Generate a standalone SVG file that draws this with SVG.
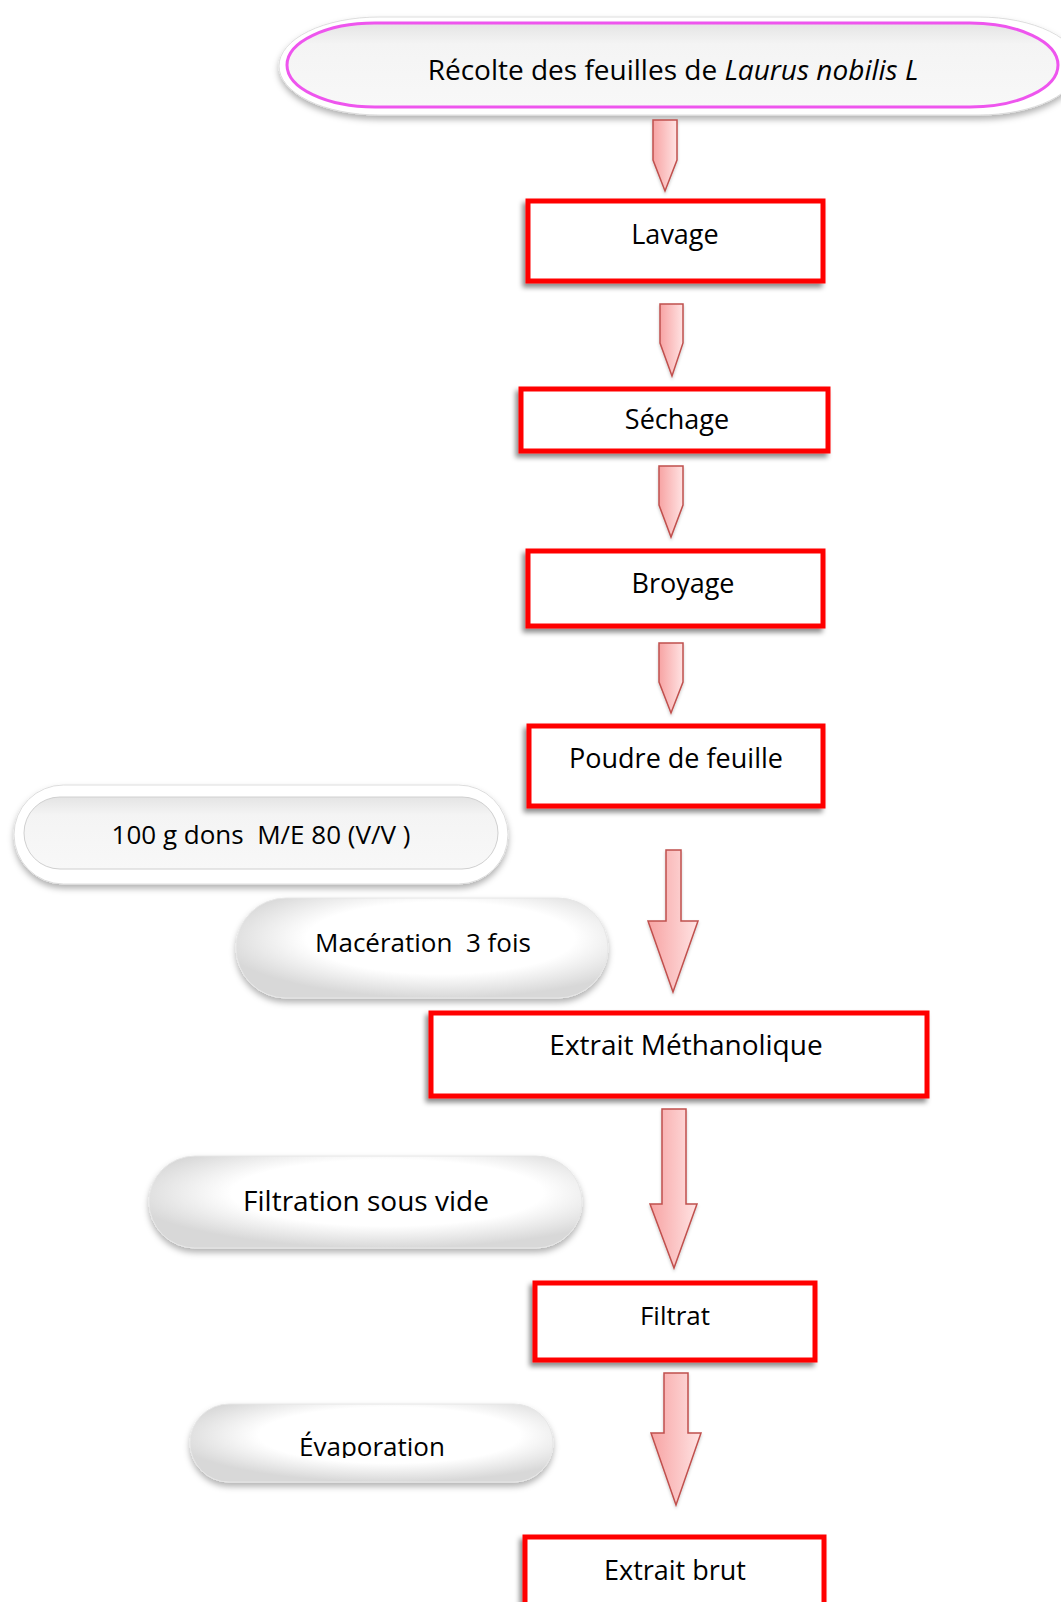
<svg xmlns="http://www.w3.org/2000/svg" width="1061" height="1602" viewBox="0 0 1061 1602">
<defs>
  <linearGradient id="arrowFill" x1="0" y1="0" x2="1" y2="0">
    <stop offset="0" stop-color="#f7a3a3"/>
    <stop offset="1" stop-color="#ffe3e3"/>
  </linearGradient>
  <radialGradient id="gloss" cx="0.55" cy="0.4" r="0.6">
    <stop offset="0.6" stop-color="#ffffff"/>
    <stop offset="1" stop-color="#d8d8d8"/>
  </radialGradient>
  <linearGradient id="innerGray" x1="0" y1="0" x2="0" y2="1">
    <stop offset="0" stop-color="#e4e4e4"/>
    <stop offset="0.25" stop-color="#f4f4f4"/>
    <stop offset="1" stop-color="#f8f8f8"/>
  </linearGradient>
  <filter id="boxShadow" x="-10%" y="-20%" width="120%" height="150%">
    <feDropShadow dx="-3" dy="4" stdDeviation="2.5" flood-color="#000" flood-opacity="0.45"/>
  </filter>
  <filter id="pillShadow" x="-10%" y="-20%" width="120%" height="150%">
    <feDropShadow dx="0" dy="4" stdDeviation="3" flood-color="#000" flood-opacity="0.3"/>
  </filter>
  <filter id="arrowShadow" x="-30%" y="-10%" width="160%" height="130%">
    <feDropShadow dx="0" dy="2" stdDeviation="1.5" flood-color="#000" flood-opacity="0.2"/>
  </filter>
  <clipPath id="evapClip">
    <rect x="190" y="1400" width="370" height="58"/>
  </clipPath>
</defs>
<style>
  .box { fill: #ffffff; stroke: #ff0000; stroke-width: 5; filter: url(#boxShadow); }
  .pill { fill: url(#gloss); stroke: #e6e6e6; stroke-width: 1; filter: url(#pillShadow); }
  .arrow { fill: url(#arrowFill); stroke: #c0504d; stroke-width: 1.5; stroke-linejoin: miter; filter: url(#arrowShadow); }
  .t { font-family: "Open Sans", "Noto Sans", sans-serif; font-size: 27px; fill: #000; text-anchor: middle; }
  .tl { font-family: "Open Sans", "Noto Sans", sans-serif; font-size: 28px; fill: #000; text-anchor: middle; }
  .ts { font-family: "Open Sans", "Noto Sans", sans-serif; font-size: 26px; fill: #000; text-anchor: middle; }
</style>
<rect width="1061" height="1602" fill="#ffffff"/>

<g id="recolte">
  <rect x="279" y="17" width="800" height="98" rx="100" ry="49" fill="#ffffff" stroke="#dddddd" stroke-width="1" filter="url(#pillShadow)"/>
  <rect x="287" y="23" width="771" height="84" rx="88" ry="42" fill="url(#innerGray)" stroke="#ee55ee" stroke-width="3"/>
  <text class="tl" x="673" y="80">Récolte des feuilles de <tspan font-style="italic">Laurus nobilis L</tspan></text>
</g>

<g id="lavage">
  <rect class="box" x="528" y="201" width="295" height="80"/>
  <text class="t" x="675" y="244">Lavage</text>
</g>

<g id="sechage">
  <rect class="box" x="521" y="389" width="307" height="62"/>
  <text class="t" x="677" y="429">Séchage</text>
</g>

<g id="broyage">
  <rect class="box" x="528" y="551" width="295" height="75"/>
  <text class="t" x="683" y="593">Broyage</text>
</g>

<g id="poudre">
  <rect class="box" x="529" y="726" width="294" height="80"/>
  <text class="t" x="676" y="768">Poudre de feuille</text>
</g>

<g id="solvant">
  <rect x="14" y="785" width="494" height="99" rx="49.5" fill="#ffffff" stroke="#dddddd" stroke-width="1" filter="url(#pillShadow)"/>
  <rect x="24" y="797" width="474" height="72" rx="36" fill="url(#innerGray)" stroke="#d0d0d0" stroke-width="1"/>
  <text class="ts" x="261" y="844" xml:space="preserve">100 g dons  M/E 80 (V/V )</text>
</g>

<g id="maceration">
  <rect class="pill" x="236" y="898" width="372" height="100" rx="50"/>
  <text class="ts" x="423" y="952" xml:space="preserve">Macération  3 fois</text>
</g>

<g id="extrait-methanolique">
  <rect class="box" x="431" y="1013" width="496" height="83"/>
  <text class="tl" x="686" y="1055">Extrait Méthanolique</text>
</g>

<g id="filtration">
  <rect class="pill" x="149" y="1156" width="433" height="92" rx="46"/>
  <text class="tl" x="366" y="1211">Filtration sous vide</text>
</g>

<g id="filtrat">
  <rect class="box" x="535" y="1283" width="280" height="77"/>
  <text class="ts" x="675" y="1325">Filtrat</text>
</g>

<g id="evaporation">
  <rect class="pill" x="190" y="1404" width="363" height="78" rx="39"/>
  <text class="ts" x="372" y="1456" clip-path="url(#evapClip)">Évaporation</text>
</g>

<g id="extrait-brut">
  <rect class="box" x="525" y="1537" width="299" height="80"/>
  <text class="t" x="675" y="1580">Extrait brut</text>
</g>

<g id="connectors">
  <polygon class="arrow" points="653,120 677,120 677,160 665,191 653,160"/>
  <polygon class="arrow" points="660,304 683,304 683,343 672,376 660,343"/>
  <polygon class="arrow" points="659,466 683,466 683,505 671,537 659,505"/>
  <polygon class="arrow" points="659,643 683,643 683,682 671,713 659,682"/>
  <polygon class="arrow" points="666,850 681,850 681,921 698,921 673,992 648,921 666,921"/>
  <polygon class="arrow" points="662,1109 686,1109 686,1204 697,1204 674,1268 650,1204 662,1204"/>
  <polygon class="arrow" points="664,1373 688,1373 688,1433 701,1433 676,1505 651,1433 664,1433"/>
</g>
</svg>
